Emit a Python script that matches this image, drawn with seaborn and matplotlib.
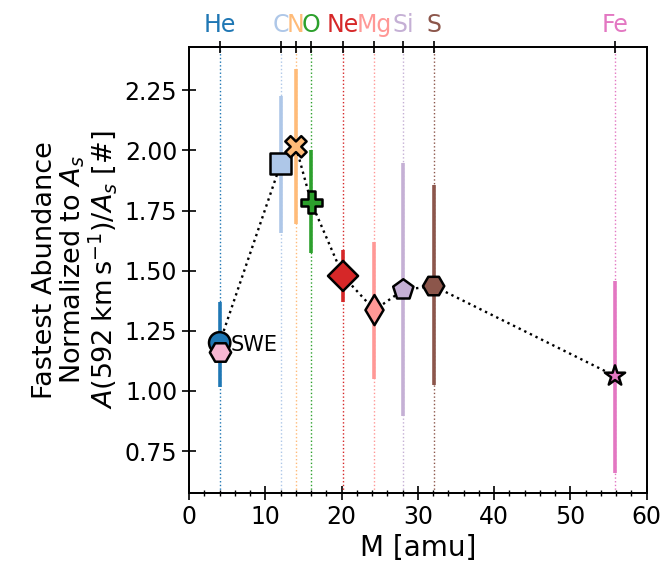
import numpy as np
import pandas as pd
import matplotlib
matplotlib.use("Agg")
import matplotlib.pyplot as plt
import seaborn as sns
from matplotlib.ticker import MultipleLocator

# ---- data ----
elements = ["He", "C", "N", "O", "Ne", "Mg", "Si", "S", "Fe"]
masses = [4.0026, 12.011, 14.007, 15.999, 20.180, 24.305, 28.085, 32.06, 55.845]
values = [1.20, 1.945, 2.015, 1.785, 1.478, 1.336, 1.42, 1.436, 1.062]
upper = [1.37, 2.226, 2.34, 2.00, 1.586, 1.62, 1.947, 1.856, 1.457]
lower = [1.017, 1.656, 1.694, 1.573, 1.37, 1.05, 0.896, 1.025, 0.66]
swe_mass = [4.0026]
swe_value = [1.16]
swe_label = "SWE"

# ---- styles ----
tab20 = sns.color_palette("tab20", 20)
elem_colors = {"He": tab20[0], "C": tab20[1], "N": tab20[3], "O": tab20[4],
               "Ne": tab20[6], "Mg": tab20[7], "Si": tab20[9], "S": tab20[10],
               "Fe": tab20[12]}
elem_markers = {"He": "o", "C": "s", "N": "X", "O": "P", "Ne": "D",
                "Mg": "d", "Si": "p", "S": "H", "Fe": "*"}

df = pd.DataFrame({"elem": elements, "mass": masses, "val": values,
                   "lo": lower, "hi": upper})
df_swe = pd.DataFrame({"mass": swe_mass, "val": swe_value})

sns.set_style("ticks")
plt.rcParams["font.family"] = ["DejaVu Sans"]
for key in ["text.color", "axes.labelcolor", "xtick.color", "ytick.color",
            "axes.edgecolor"]:
    plt.rcParams[key] = "black"

fig = plt.figure(figsize=(6.66, 5.62), dpi=100)
ax = fig.add_axes([0.284, 0.123, 0.687, 0.793])

# vertical dotted reference lines
for e, m in zip(elements, masses):
    ax.axvline(m, color=elem_colors[e], ls=":", lw=1.0, zorder=1)

# error bars
for e, m, lo, hi in zip(elements, masses, lower, upper):
    ax.vlines(m, lo, hi, color=elem_colors[e], lw=2.6, zorder=2)

# connecting dotted line
sns.lineplot(data=df, x="mass", y="val", sort=False, color="black",
             linestyle=":", lw=1.7, ax=ax, zorder=3, legend=False)

# markers
sns.scatterplot(data=df, x="mass", y="val", hue="elem", style="elem",
                palette=elem_colors, markers=elem_markers, s=235,
                edgecolor="black", linewidth=1.8, legend=False, ax=ax, zorder=5)
sns.scatterplot(data=df_swe, x="mass", y="val", marker="H", s=235,
                color=tab20[13], edgecolor="black", linewidth=1.8,
                legend=False, ax=ax, zorder=6)
ax.text(swe_mass[0] + 1.5, 1.19, swe_label, fontsize=15, va="center",
        ha="left", zorder=7)

ax.set_xlim(0, 60)
ax.set_ylim(0.576, 2.429)
ax.xaxis.set_major_locator(MultipleLocator(10))
ax.xaxis.set_minor_locator(MultipleLocator(2))
ax.yaxis.set_major_locator(MultipleLocator(0.25))
ax.yaxis.set_major_formatter(matplotlib.ticker.FormatStrFormatter("%.2f"))
ax.tick_params(axis="both", which="major", direction="inout", length=10,
               width=1.2, labelsize=17, colors="black")
ax.tick_params(axis="x", which="minor", direction="inout", length=5, width=1.0)
for sp in ax.spines.values():
    sp.set_linewidth(1.3)
    sp.set_color("black")

ax.set_xlabel("M [amu]", fontsize=20, color="black")
ax.set_ylabel("Fastest Abundance\nNormalized to $A_s$\n"
              r"$A(592\;\mathrm{km\,s^{-1}})/A_s$ [#]", fontsize=19.5,
              linespacing=1.0, color="black")

# top axis with element labels
ax2 = ax.twiny()
ax2.set_xlim(ax.get_xlim())
ax2.set_xticks(masses)
ax2.set_xticklabels(elements)
ax2.tick_params(axis="x", which="major", direction="inout", length=8,
                width=1.2, labelsize=17, pad=3, color="black")
ax2.xaxis.set_minor_locator(matplotlib.ticker.NullLocator())
for lbl, e in zip(ax2.get_xticklabels(), elements):
    lbl.set_color(elem_colors[e])
for sp in ax2.spines.values():
    sp.set_linewidth(1.3)
    sp.set_color("black")

fig.savefig("out.png", dpi=100)
